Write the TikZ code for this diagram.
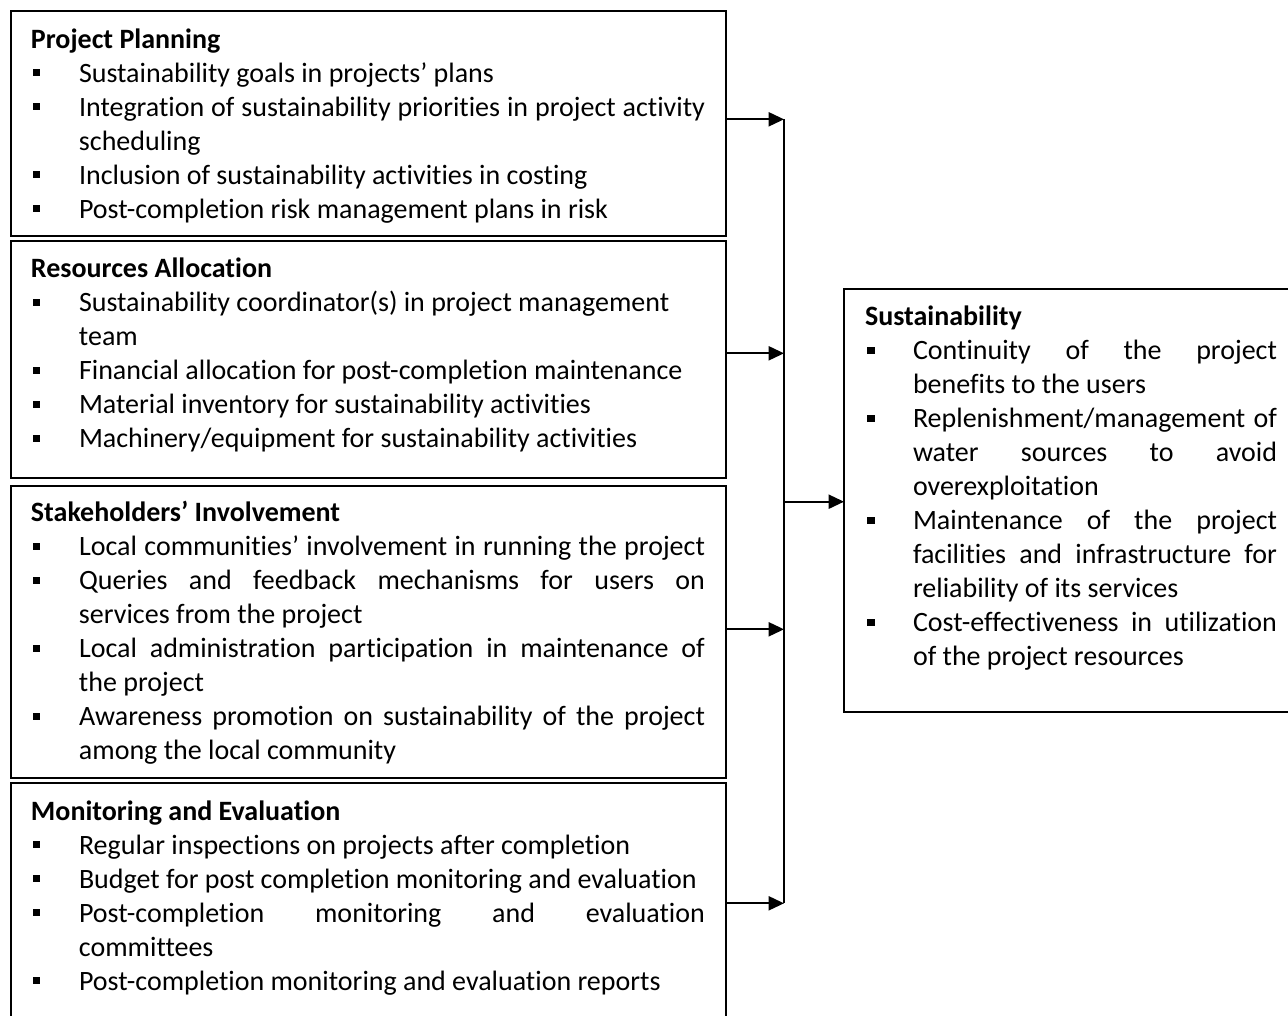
\documentclass[tikz,border=0pt]{standalone}
\usepackage{fontspec}
\setmainfont{Carlito}[Ligatures={NoCommon}]
\usetikzlibrary{arrows.meta,fit}

% one screen pixel
\newdimen\pxu \pxu=0.75pt
% square bullet, bullet item, continuation line, stretched (justified) line
\newcommand\sqb{\raisebox{6\pxu}{\rule{7.5\pxu}{7\pxu}}}
\newcommand\bitem[1]{\par\hspace*{2\pxu}\makebox[46\pxu][l]{\sqb}#1}
\newcommand\cont[1]{\par\hspace*{48\pxu}#1}
\newcommand\jl[2]{\makebox[#1\pxu][s]{#2}}
\newenvironment{blist}[1]{\begin{minipage}[t]{#1\pxu}\fontsize{21pt}{25.5pt}\selectfont
  \parindent=0pt\parskip=0pt\hyphenpenalty=10000}{\end{minipage}}

\begin{document}
\begin{tikzpicture}[x=0.75pt, y=-0.75pt,
  box/.style={draw, line width=1.5pt, inner sep=0pt, outer sep=0pt},
  txt/.style={anchor=base west, inner sep=0pt, outer sep=0pt},
  link/.style={line width=1.5pt},
  arr/.style={link, -{Triangle[length=11.5pt, width=10.5pt]}}]

\useasboundingbox (0,0) rectangle (1288,1015);
\clip (0,0) rectangle (1288,1015);

% ---- factor boxes (left column)
\node[box, fit={(11,11) (726,236)}] (pp) {};
\node[box, fit={(11,241) (726,478)}] (ra) {};
\node[box, fit={(11,485.5) (726,778)}] (si) {};
\node[box, fit={(11,783) (726,1030)}] (me) {};
% ---- outcome box
\node[box, fit={(844,289) (1300,711.5)}] (sus) {};

\node[txt] (ppt) at (31,48) {\begin{blist}{680}
\textbf{Project Planning}
\bitem{Sustainability goals in projects’ plans}
\bitem{\jl{626}{Integration of sustainability priorities in project activity}}
\cont{scheduling}
\bitem{Inclusion of sustainability activities in costing}
\bitem{Post-completion risk management plans in risk}
\end{blist}};

\node[txt] (rat) at (31,277.7) {\begin{blist}{680}
\textbf{Resources Allocation}
\bitem{Sustainability coordinator(s) in project management}
\cont{team}
\bitem{Financial allocation for post-completion maintenance}
\bitem{Material inventory for sustainability activities}
\bitem{Machinery/equipment for sustainability activities}
\end{blist}};

\node[txt] (sit) at (31,521.7) {\begin{blist}{680}
\textbf{Stakeholders’ Involvement}
\bitem{\jl{626}{Local communities’ involvement in running the project}}
\bitem{\jl{626}{Queries and feedback mechanisms for users on}}
\cont{services from the project}
\bitem{\jl{626}{Local administration participation in maintenance of}}
\cont{the project}
\bitem{\jl{626}{Awareness promotion on sustainability of the project}}
\cont{among the local community}
\end{blist}};

\node[txt] (met) at (31,820) {\begin{blist}{680}
\textbf{Monitoring and Evaluation}
\bitem{Regular inspections on projects after completion}
\bitem{Budget for post completion monitoring and evaluation}
\bitem{\jl{626}{Post-completion monitoring and evaluation}}
\cont{committees}
\bitem{Post-completion monitoring and evaluation reports}
\end{blist}};

\node[txt] (sust) at (865,325.5) {\begin{blist}{420}
\textbf{Sustainability}
\bitem{\jl{364}{Continuity of the project}}
\cont{benefits to the users}
\bitem{\jl{364}{Replenishment/management of}}
\cont{\jl{364}{water sources to avoid}}
\cont{overexploitation}
\bitem{\jl{364}{Maintenance of the project}}
\cont{\jl{364}{facilities and infrastructure for}}
\cont{reliability of its services}
\bitem{\jl{364}{Cost-effectiveness in utilization}}
\cont{of the project resources}
\end{blist}};

% ---- collecting bus and connectors
\coordinate (b1) at (784,119.3);
\coordinate (b2) at (784,353.3);
\coordinate (bm) at (784,501.7);
\coordinate (b3) at (784,629.3);
\coordinate (b4) at (784,903.3);

\draw[link] (b1) -- (b4);
\draw[arr] (b1 -| pp.east) -- (b1);
\draw[arr] (b2 -| ra.east) -- (b2);
\draw[arr] (b3 -| si.east) -- (b3);
\draw[arr] (b4 -| me.east) -- (b4);
\draw[arr] (bm) -- (bm -| sus.west);
\end{tikzpicture}
\end{document}
